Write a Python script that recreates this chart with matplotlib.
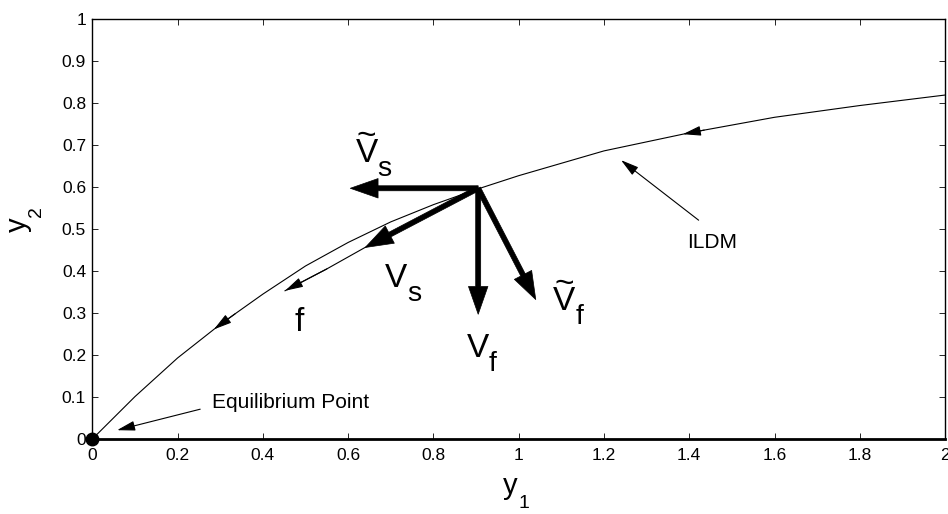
import numpy as np
import matplotlib
matplotlib.use('Agg')
import matplotlib.pyplot as plt

rcParams = matplotlib.rcParams
rcParams['font.family'] = ['Liberation Sans', 'DejaVu Sans']

#%% Data
# slow manifold (ILDM)
ildm_x = [0, 0.1, 0.2, 0.3, 0.4, 0.5, 0.6, 0.7, 0.8, 0.9, 1.0, 1.2, 1.4, 1.6, 1.8, 2.0]
ildm_y = [0, 0.101, 0.193, 0.273, 0.345, 0.412, 0.468, 0.517, 0.558, 0.594, 0.627,
          0.686, 0.729, 0.766, 0.794, 0.819]

# trajectory labelled f
traj_x = [0.905, 0.8, 0.714, 0.636, 0.55, 0.452]
traj_y = [0.597, 0.542, 0.498, 0.454, 0.405, 0.353]

# base point of the four vectors and their components
base = (0.905, 0.597)
vec_sub = ['s', 's', 'f', 'f']
vec_tilde = [True, False, False, True]
vec_dx = [-0.30, -0.265, 0.0, 0.135]
vec_dy = [0.0, -0.141, -0.30, -0.265]

# direction marks on the ILDM curve (x of arrow tip)
mark_x = [1.385, 0.285]

xticks = np.arange(0, 2.01, 0.2)
yticks = np.arange(0, 1.01, 0.1)

#%% Figure
fig = plt.figure(figsize=(9.48, 5.14), dpi=100)
ax = fig.add_axes([0.0974, 0.1459, 0.8995, 0.8171])

ax.plot(ildm_x, ildm_y, color='k', lw=0.8)
ax.plot(traj_x, traj_y, color='k', lw=0.8)
ax.plot([0], [0], 'o', color='k', ms=9, clip_on=False, zorder=5)

thin = dict(arrowstyle='-|>,head_length=0.55,head_width=0.15', color='k', lw=0.8,
            mutation_scale=20, shrinkA=0, shrinkB=0)

# arrow head at end of trajectory
ax.annotate('', xy=(traj_x[-1], traj_y[-1]), xytext=(traj_x[-2], traj_y[-2]), arrowprops=thin)

# direction arrows on the ILDM
for mx in mark_x:
    my = np.interp(mx, ildm_x, ildm_y)
    my2 = np.interp(mx + 0.05, ildm_x, ildm_y)
    ax.annotate('', xy=(mx, my), xytext=(mx + 0.05, my2), arrowprops=thin)

# thick vectors
thick = dict(arrowstyle='simple,head_length=1.0,head_width=0.7,tail_width=0.18',
             fc='k', ec='k', lw=0.5, mutation_scale=20, shrinkA=0, shrinkB=0)
for dx, dy in zip(vec_dx, vec_dy):
    ax.annotate('', xy=(base[0] + dx, base[1] + dy), xytext=base, arrowprops=thick)

def vlabel(x, y, sub, tilde, size=24):
    # V with a lowered subscript and optional tilde, matlab style
    ax.text(x, y, 'V', fontsize=size, ha='left', va='baseline')
    ax.annotate(sub, xy=(x, y), xytext=(size * 0.66, -size * 0.42),
                textcoords='offset points', fontsize=size * 0.85,
                ha='left', va='baseline')
    if tilde:
        ax.annotate('~', xy=(x, y), xytext=(size * 0.34, size * 0.5),
                    textcoords='offset points', fontsize=size,
                    ha='center', va='baseline')

lab_pos = [(0.617, 0.660), (0.687, 0.363), (0.878, 0.196), (1.081, 0.307)]
for sub, tl, (lx, ly) in zip(vec_sub, vec_tilde, lab_pos):
    vlabel(lx, ly, sub, tl)
ax.text(0.475, 0.257, 'f', fontsize=24, ha='left', va='baseline')

# labelled annotations
ax.text(1.395, 0.455, 'ILDM', fontsize=15, ha='left', va='baseline')
ax.annotate('', xy=(1.240, 0.664), xytext=(1.422, 0.521), arrowprops=thin)
ax.text(0.281, 0.074, 'Equilibrium Point', fontsize=15, ha='left', va='baseline')
ax.annotate('', xy=(0.058, 0.021), xytext=(0.253, 0.071), arrowprops=thin)

#%% Axes styling
ax.set_xlim(0, 2)
ax.set_ylim(0, 1)
ax.set_xticks(xticks)
ax.set_yticks(yticks)
ax.set_xticklabels(['%g' % round(t, 1) for t in xticks])
ax.set_yticklabels(['%g' % round(t, 1) for t in yticks])
ax.tick_params(direction='in', length=4.5, width=0.6, top=True, right=True,
               labelsize=12.5)
ax.tick_params(axis='x', pad=6.5)
ax.tick_params(axis='y', pad=4.5)
for s in ax.spines.values():
    s.set_linewidth(1.0)
ax.spines['bottom'].set_linewidth(2.0)

# axis labels with matlab style subscripts
xt = ax.get_xaxis_transform()
ax.text(0.963, -0.132, 'y', transform=xt, fontsize=21, ha='left', va='baseline',
        clip_on=False)
ax.annotate('1', xy=(0.963, -0.132), xycoords=xt, xytext=(11, -10),
            textcoords='offset points', fontsize=14, ha='left', va='baseline',
            annotation_clip=False)
yt = ax.get_yaxis_transform()
ax.text(-0.0778, 0.493, 'y', transform=yt, fontsize=21, rotation=90,
        rotation_mode='anchor', ha='left', va='baseline', clip_on=False)
ax.annotate('2', xy=(-0.0778, 0.493), xycoords=yt, xytext=(11, 11),
            textcoords='offset points', fontsize=14, rotation=90,
            rotation_mode='anchor', ha='left', va='baseline', annotation_clip=False)

fig.savefig('out.png', dpi=100)
